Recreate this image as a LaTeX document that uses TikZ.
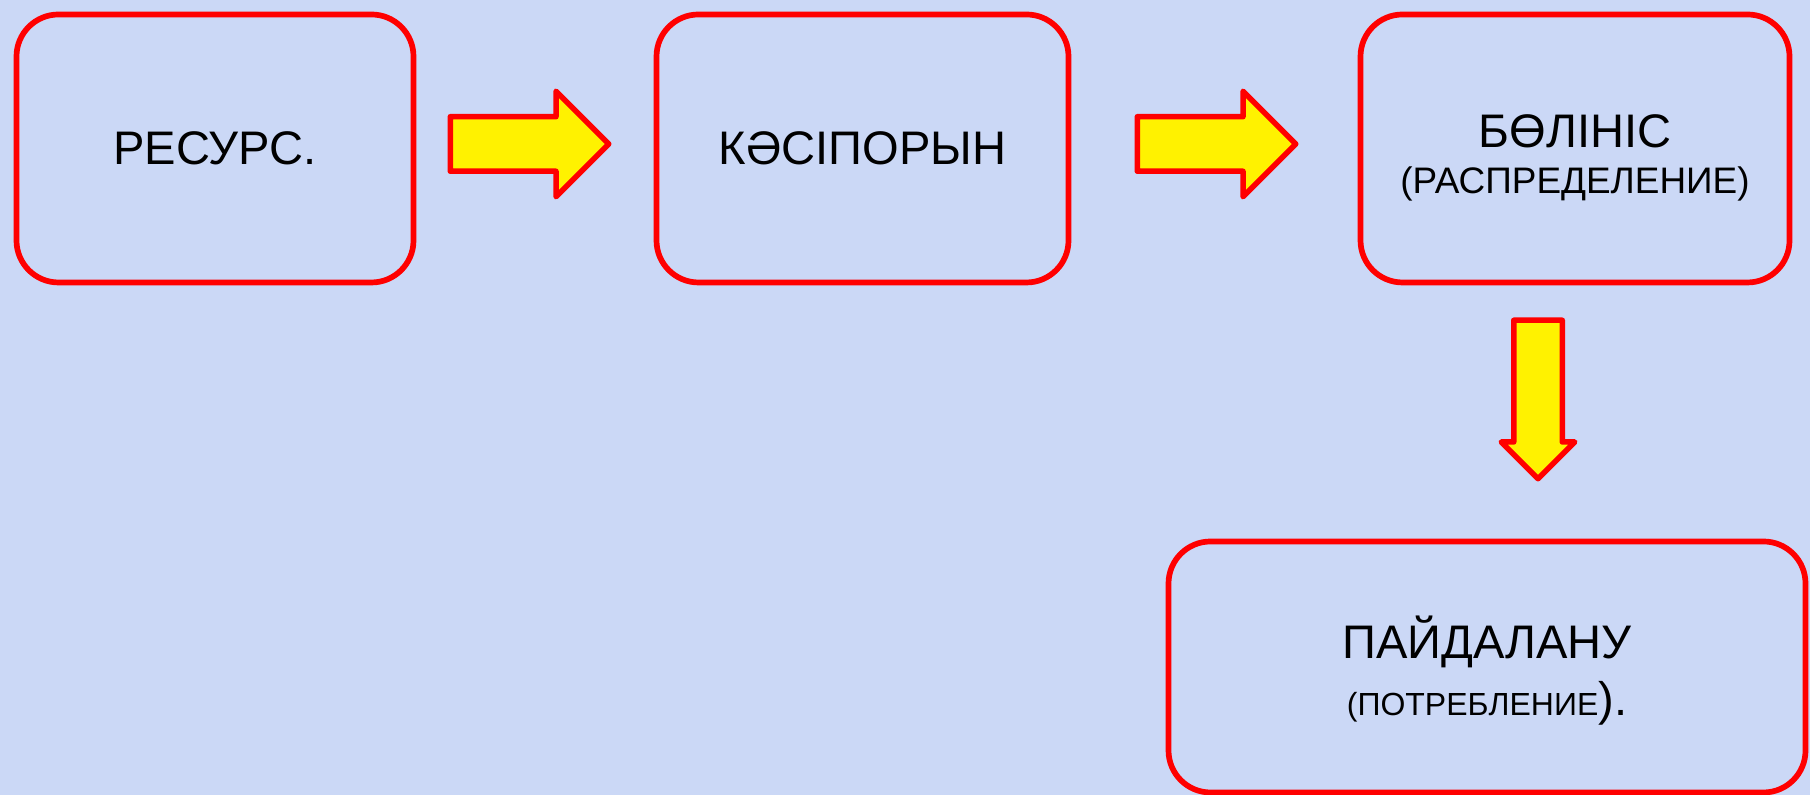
\documentclass[tikz,border=0pt]{standalone}
\usepackage{fontspec}
\setmainfont{Liberation Sans}
\usetikzlibrary{shapes.arrows}

\definecolor{bgblue}{RGB}{203,216,246}
\tikzset{
    stage/.style={draw=red, line width=0.057cm, rounded corners=0.42cm, align=center, inner sep=0pt},
    flow/.style={single arrow, draw=red, fill=yellow, line width=0.055cm, line join=round, inner sep=0pt,
        anchor=tail, single arrow head extend=0.255cm, minimum height=1.585cm}
}
\newcommand{\bigtxt}{\fontsize{13.4}{16}\selectfont}
\newcommand{\midtxt}{\fontsize{10.5}{13}\selectfont}
\newcommand{\smalltxt}{\fontsize{9.1}{11}\selectfont}

\begin{document}
\begin{tikzpicture}
    % Background
    \fill[bgblue] (0,0) rectangle (18.1,7.95);
    \useasboundingbox (0,0) rectangle (18.1,7.95);

    % Stages
    \node[stage, minimum width=3.97cm, minimum height=2.68cm] (resurs) at (2.15,6.465) {\bigtxt РЕСУРС.};
    \node[stage, minimum width=4.12cm, minimum height=2.68cm] (kasiporyn) at (8.625,6.465) {\bigtxt КӘСІПОРЫН};
    \node[stage, minimum width=4.29cm, minimum height=2.68cm] (bolinis) at (15.75,6.465)
        {\bigtxt\rule{0pt}{0.525cm}БӨЛІНІС\\[0.04cm] \midtxt (РАСПРЕДЕЛЕНИЕ)};
    \node[stage, minimum width=6.37cm, minimum height=2.51cm] (paidalanu) at (14.87,1.28)
        {\bigtxt\rule{0pt}{0.5cm}ПАЙДАЛАНУ\\[0.1cm] \smalltxt (ПОТРЕБЛЕНИЕ\bigtxt).};

    % Arrows
    \node[flow, inner ysep=0.245cm] (a1) at (4.475,6.51) {};
    \node[flow, inner ysep=0.245cm] (a2) at (11.345,6.51) {};
    \node[flow, inner ysep=0.215cm, single arrow head extend=0.125cm, rotate=-90] (a3) at (15.38,4.775) {};
\end{tikzpicture}
\end{document}
